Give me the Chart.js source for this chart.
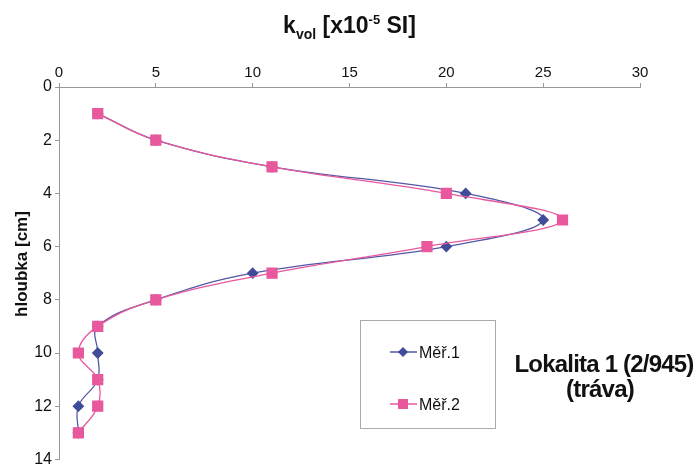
<!DOCTYPE html>
<html>
<head>
<meta charset="utf-8">
<script src="https://cdn.jsdelivr.net/npm/chart.js@4.4.1/dist/chart.umd.min.js"></script>
<style>
	html, body { margin: 0; padding: 0; background: #fff; }
	#wrap { width: 697px; height: 472px; }
</style>
</head>
<body>
<div id="wrap"><canvas id="chart"></canvas></div>
<script>
const depth = [1, 2, 3, 4, 5, 6, 7, 8, 9, 10, 11, 12, 13];
const mer1 = [2, 5, 11, 21, 25, 20, 10, 5, 2, 2, 2, 1, 1];
const mer2 = [2, 5, 11, 20, 26, 19, 11, 5, 2, 1, 2, 2, 1];
const xTicks = [0, 5, 10, 15, 20, 25, 30];
const yTicks = [0, 2, 4, 6, 8, 10, 12, 14];
const seriesNames = ['Měř.1', 'Měř.2'];
const yTitle = 'hloubka [cm]';
const locality = ['Lokalita 1 (2/945)', '(tráva)'];

const FONT = "'Liberation Sans', Arial, sans-serif";
const blue = '#5359a6', blueMark = '#414c98', pink = '#e8589c';

const toPoints = (vals) => vals.map((v, i) => ({ x: v, y: depth[i] }));

// titles (with sub/superscript), legend box and the locality note
const decor = {
	id: 'decor',
	afterDraw(chart) {
		const { ctx, chartArea } = chart;
		ctx.save();
		ctx.fillStyle = '#111';
		ctx.textBaseline = 'alphabetic';
		const parts = [
			['k', 23, 0], ['vol', 14, 6], [' [x10', 23, 0], ['-5', 13, -9], [' SI]', 23, 0]
		];
		let w = 0;
		parts.forEach(p => { ctx.font = `bold ${p[1]}px ${FONT}`; w += ctx.measureText(p[0]).width; });
		let x = (chartArea.left + chartArea.right) / 2 - w / 2;
		parts.forEach(p => {
			ctx.font = `bold ${p[1]}px ${FONT}`;
			ctx.fillText(p[0], x, 33 + p[2]);
			x += ctx.measureText(p[0]).width;
		});

		// y axis title
		ctx.save();
		ctx.translate(22, 264);
		ctx.rotate(-Math.PI / 2);
		ctx.textAlign = 'center';
		ctx.textBaseline = 'middle';
		ctx.font = `bold 17px ${FONT}`;
		ctx.fillText(yTitle, 0, 0);
		ctx.restore();

		// legend
		ctx.strokeStyle = '#aaa';
		ctx.lineWidth = 1;
		ctx.strokeRect(360.5, 320.5, 135, 108);
		chart.data.datasets.forEach((ds, i) => {
			const y = 352 + i * 52;
			ctx.strokeStyle = ds.borderColor;
			ctx.lineWidth = 1.5;
			ctx.beginPath();
			ctx.moveTo(390, y);
			ctx.lineTo(417, y);
			ctx.stroke();
			ctx.fillStyle = ds.pointBackgroundColor;
			ctx.strokeStyle = ds.pointBorderColor;
			Chart.helpers.drawPoint(ctx, {
				pointStyle: ds.pointStyle, radius: ds.pointRadius - 1, borderWidth: 1
			}, 403, y);
			ctx.fillStyle = '#111';
			ctx.font = `16px ${FONT}`;
			ctx.fillText(ds.label, 419, y + 6);
		});

		// locality note
		ctx.font = `bold 24px ${FONT}`;
		ctx.letterSpacing = '-0.8px';
		ctx.textAlign = 'center';
		ctx.fillText(locality[0], 604, 372);
		ctx.fillText(locality[1], 600, 397);
		ctx.restore();
	}
};

new Chart(document.getElementById('chart'), {
	type: 'scatter',
	data: {
		datasets: [
			{
				label: seriesNames[0],
				data: toPoints(mer1),
				order: 1,
				showLine: true,
				tension: 0.4,
				borderColor: blue,
				borderWidth: 1.3,
				pointStyle: 'rectRot',
				pointRadius: 5,
				pointBackgroundColor: blueMark,
				pointBorderColor: blueMark,
			},
			{
				label: seriesNames[1],
				data: toPoints(mer2),
				order: 0,
				showLine: true,
				tension: 0.4,
				borderColor: pink,
				borderWidth: 1.3,
				pointStyle: 'rect',
				pointRadius: 7,
				pointBackgroundColor: pink,
				pointBorderColor: pink,
			},
		]
	},
	options: {
		responsive: true,
		maintainAspectRatio: false,
		animation: false,
		layout: { padding: { top: 0, right: 57, bottom: 9, left: 0 } },
		plugins: {
			legend: { display: false },
			tooltip: { enabled: false },
		},
		scales: {
			x: {
				position: 'top',
				min: 0, max: 30,
				afterBuildTicks: (s) => { s.ticks = xTicks.map(v => ({ value: v })); },
				afterFit: (s) => { s.height = 87; },
				ticks: { color: '#111', font: { family: FONT, size: 15 }, padding: 1 },
				grid: { drawOnChartArea: false, color: '#999', tickLength: 4 },
				border: { color: '#999' },
			},
			y: {
				reverse: true,
				min: 0, max: 14,
				afterBuildTicks: (s) => { s.ticks = yTicks.map(v => ({ value: v })); },
				afterFit: (s) => { s.width = 59; },
				ticks: { color: '#111', font: { family: FONT, size: 16 }, padding: 3 },
				grid: { drawOnChartArea: false, color: '#999', tickLength: 4 },
				border: { color: '#999' },
			},
		}
	},
	plugins: [decor]
});
</script>
</body>
</html>
